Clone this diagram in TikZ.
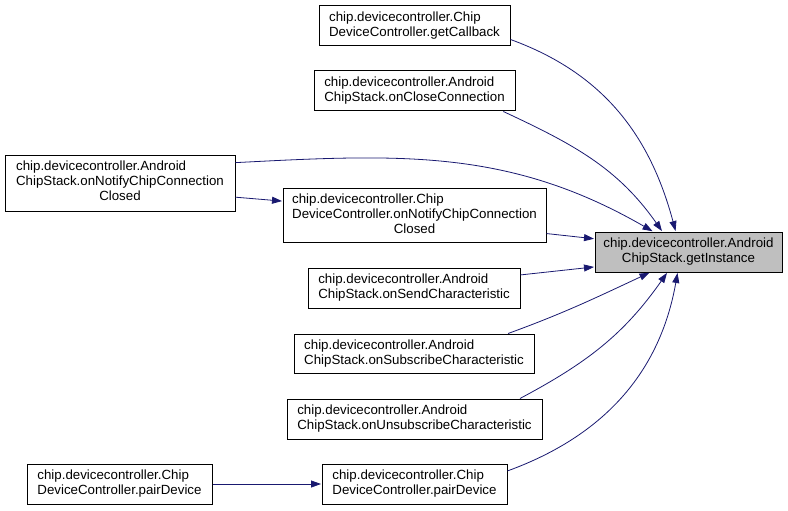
\documentclass[tikz,border=0pt]{standalone}
\usepackage{fontspec}
\setmainfont{Liberation Sans}
\usetikzlibrary{arrows.meta}
\definecolor{edgeblue}{HTML}{191970}
\newcommand{\fn}[2]{\begin{tabular}{@{}l@{}}#1\\\multicolumn{1}{@{}c@{}}{#2}\end{tabular}}
\newcommand{\fnn}[3]{\begin{tabular}{@{}l@{}}#1\\#2\\\multicolumn{1}{@{}c@{}}{#3}\end{tabular}}
\begin{document}
\begin{tikzpicture}[x=1pt, y=-1pt, font=\fontsize{13.3}{15}\selectfont,
      fnode/.style={draw, line width=1pt, fill=white, inner sep=0pt, minimum height=40pt},
      cur/.style={fnode, fill=black!25},
      call/.style={draw=edgeblue, line width=0.8pt, -{Triangle[length=10pt,width=7pt]}, shorten >=0.5pt}]
    \useasboundingbox (0,0) rectangle (788,511);
    \node[cur]   (gi)   at (688.5,252) [minimum width=187pt] {\fn{chip.devicecontroller.Android}{ChipStack.getInstance}};
    \node[fnode] (cb)   at (414.5,26)  [minimum width=191pt] {\fn{chip.devicecontroller.Chip}{DeviceController.getCallback}};
    \node[fnode] (cc)   at (414.5,91)  [minimum width=201pt] {\fn{chip.devicecontroller.Android}{ChipStack.onCloseConnection}};
    \node[fnode] (ncs)  at (120,183)   [minimum width=230pt, minimum height=56pt] {\fnn{chip.devicecontroller.Android}{ChipStack.onNotifyChipConnection}{Closed}};
    \node[fnode] (ncd)  at (414.5,215) [minimum width=263pt, minimum height=54pt] {\fnn{chip.devicecontroller.Chip}{DeviceController.onNotifyChipConnection}{Closed}};
    \node[fnode] (sc)   at (414,288)   [minimum width=212pt] {\fn{chip.devicecontroller.Android}{ChipStack.onSendCharacteristic}};
    \node[fnode] (sub)  at (414,353.5) [minimum width=240pt, minimum height=39pt] {\fn{chip.devicecontroller.Android}{ChipStack.onSubscribeCharacteristic}};
    \node[fnode] (uns)  at (414.5,419) [minimum width=255pt] {\fn{chip.devicecontroller.Android}{ChipStack.onUnsubscribeCharacteristic}};
    \node[fnode] (pd)   at (414.5,484) [minimum width=185pt] {\fn{chip.devicecontroller.Chip}{DeviceController.pairDevice}};
    \node[fnode] (pdl)  at (119.5,484) [minimum width=185pt] {\fn{chip.devicecontroller.Chip}{DeviceController.pairDevice}};
    \draw[call] (cb.-8) to[out=-20, in=105] (gi.122);
    \draw[call] (cc.-13) to[out=-25, in=125] (gi.142);
    \draw[call] (ncs.10) to[out=3, in=150] (gi.150);
    \draw[call] (ncs.-7) -- (ncd.174);
    \draw[call] (ncd.-8) -- (gi.172);
    \draw[call] (sc.7.5) -- (gi.-171);
    \draw[call] (sub.12) to[out=20, in=-155] (gi.-152);
    \draw[call] (uns.11) to[out=28, in=-125] (gi.-136);
    \draw[call] (pd.8) to[out=20, in=-100] (gi.-118);
    \draw[call] (pdl) -- (pd);
  \end{tikzpicture}
\end{document}
